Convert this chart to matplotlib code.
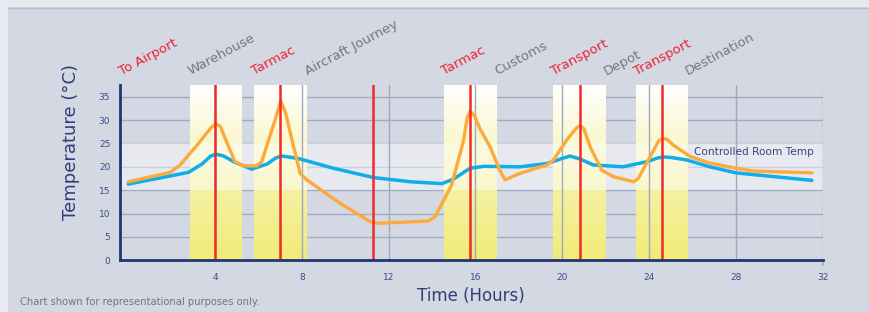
import matplotlib
matplotlib.use('Agg')
import matplotlib.pyplot as plt
import numpy as np
from matplotlib.colors import LinearSegmentedColormap
from matplotlib.patches import Rectangle

# --- data (hours, deg C) ---
product_hours = [0.0, 2.77, 3.4, 3.8, 4.05, 4.4, 4.9, 5.69, 6.4, 6.8, 7.07, 7.4, 7.9, 9.45,
                 11.3, 13.0, 14.45, 15.0, 15.75, 16.4, 18.05, 19.3, 20.0, 20.35, 20.8,
                 21.43, 22.8, 23.9, 24.4, 24.7, 25.0, 25.7, 26.8, 28.0, 31.5]
product_temp = [16.3, 18.8, 20.6, 22.3, 22.7, 22.3, 21.0, 19.5, 20.6, 21.9, 22.3, 22.1, 21.7,
                19.7, 17.7, 16.8, 16.4, 17.4, 19.7, 20.1, 20.0, 20.7, 21.8, 22.3, 21.7,
                20.4, 20.0, 21.1, 21.9, 22.1, 22.0, 21.5, 20.0, 18.7, 17.1]

ambient_hours = [0.0, 1.93, 2.39, 3.31, 3.8, 4.03, 4.25, 4.46, 4.92, 5.3, 5.92, 6.15, 6.8,
                 7.03, 7.25, 7.6, 7.92, 8.23, 9.76, 11.14, 11.45, 13.83, 14.13, 14.5, 14.9,
                 15.44, 15.62, 15.75, 15.95, 16.2, 16.67, 17.1, 17.36, 18.05, 19.3, 19.6,
                 20.2, 20.65, 20.82, 21.0, 21.28, 21.82, 22.35, 23.28, 23.5, 24.05, 24.45,
                 24.65, 24.85, 25.1, 25.89, 26.8, 28.0, 28.8, 31.5]
ambient_temp = [16.8, 18.8, 20.4, 25.4, 28.3, 29.2, 28.6, 26.1, 21.1, 20.2, 20.2, 21.1, 30.5,
                34.1, 31.5, 24.7, 18.6, 17.2, 12.2, 8.3, 7.9, 8.4, 9.3, 12.5, 16.1,
                25.4, 30.5, 31.9, 31.0, 28.2, 24.3, 19.5, 17.2, 18.6, 20.4, 21.5,
                25.7, 28.3, 28.8, 28.1, 24.3, 19.3, 17.9, 16.8, 17.5, 22.2, 25.6,
                26.1, 25.8, 24.7, 22.2, 20.8, 19.7, 19.1, 18.7]

exposure_start = [2.85, 5.8, 14.55, 19.58, 23.4]
exposure_end = [5.23, 8.22, 16.95, 22.0, 25.78]
transfer_hours = [4.0, 7.0, 11.3, 15.75, 20.8, 24.6]

stage_labels = ['To Airport', 'Warehouse', 'Tarmac', 'Aircraft Journey', 'Tarmac',
                'Customs', 'Transport', 'Depot', 'Transport', 'Destination']
stage_hours = [-0.32, 2.86, 5.8, 8.26, 14.57, 17.0, 19.59, 22.02, 23.42, 25.8]
stage_is_transfer = [True, False, True, False, True, False, True, False, True, False]

room_low, room_high = 15, 25
x_ticks = [4, 8, 12, 16, 20, 24, 28, 32]
y_ticks = [0, 5, 10, 15, 20, 25, 30, 35]

BG = '#d4d8e3'
NAVY = '#22356f'

fig = plt.figure(figsize=(8.7, 3.12), dpi=100, facecolor=BG)
# light frame strips at the top and left edge
fig.patches.append(Rectangle((0, 1 - 7 / 312), 1, 7 / 312, transform=fig.transFigure,
                             facecolor='#e9eaf0', edgecolor='none', zorder=0))
fig.patches.append(Rectangle((0, 0), 8 / 870, 1, transform=fig.transFigure,
                             facecolor='#e9eaf0', edgecolor='none', zorder=0))
fig.lines.append(plt.Line2D([8 / 870, 1], [1 - 7.5 / 312, 1 - 7.5 / 312],
                            transform=fig.transFigure, color='#b9bed2', lw=1))

ax = fig.add_axes([120 / 870, (312 - 260.3) / 312, 702.7 / 870, 175.3 / 312])
ax.set_facecolor(BG)
ymax = 37.5
xmin, xmax = -0.38, 32.0

# horizontal grid (hidden under the exposure bands)
for y in y_ticks[1:]:
    ax.axhline(y, color='#a2abc5', lw=1, zorder=0.5)

# yellow exposure bands with vertical gradient
cmap = LinearSegmentedColormap.from_list(
    'expo', [(0, '#f1eb76'), (0.4, '#f5f1a3'), (1, '#ffffff')])
grad = np.linspace(1, 0, 256).reshape(-1, 1)
for x0, x1 in zip(exposure_start, exposure_end):
    ax.imshow(grad, cmap=cmap, extent=[x0, x1, 0, ymax], aspect='auto',
              zorder=1, vmin=0, vmax=1)

# controlled room temperature zone
ax.axhspan(room_low, room_high, color='white', alpha=0.45, lw=0, zorder=1.5)
ax.text(26.07, 23.2, 'Controlled Room Temp', fontsize=7.6, color='#34467c',
        ha='left', va='center', zorder=6)

# vertical grid
for x in x_ticks:
    ax.axvline(x, color='#9ea8c2', lw=1, zorder=1.6)
ax.plot([32, 32], [0, -1.1], color='#9ea8c2', lw=1.2, clip_on=False, zorder=1.6)

ax.plot(product_hours, product_temp, color='#10aee8', lw=2.5, zorder=4,
        solid_joinstyle='round', solid_capstyle='round')
ax.plot(ambient_hours, ambient_temp, color='#fbab3c', lw=2.4, zorder=4,
        solid_joinstyle='round', solid_capstyle='round')

for x in transfer_hours:
    ax.axvline(x, color='#ee2a2a', lw=1.8, zorder=5)

for label, x, red in zip(stage_labels, stage_hours, stage_is_transfer):
    ax.annotate(label, xy=(x, 1), xycoords=('data', 'axes fraction'),
                xytext=(0, 7), textcoords='offset points',
                rotation=28, rotation_mode='anchor', ha='left', va='baseline',
                fontsize=9.5, color='#ee2233' if red else '#777777',
                annotation_clip=False)

ax.set_xlim(xmin, xmax)
ax.set_ylim(0, ymax)
ax.set_xticks(x_ticks)
ax.set_yticks(y_ticks)
ax.tick_params(axis='both', length=0, labelsize=6.5, labelcolor='#3b4d86')
ax.tick_params(axis='x', pad=9)
ax.tick_params(axis='y', pad=7)

for side in ['top', 'right']:
    ax.spines[side].set_visible(False)
for side in ['left', 'bottom']:
    ax.spines[side].set_color(NAVY)
    ax.spines[side].set_linewidth(2)
    ax.spines[side].set_zorder(7)

ax.set_xlabel('Time (Hours)', fontsize=12, color='#2e3f78', labelpad=4)
ax.set_ylabel('Temperature (°C)', fontsize=13, color='#2e3f78')
ax.yaxis.set_label_coords(-0.057, 0.675)

fig.text(20 / 870, 1 - 302 / 312, 'Chart shown for representational purposes only.',
         fontsize=7.2, color='#767676', ha='left', va='center')

fig.savefig('out.png', dpi=100, facecolor=BG)
